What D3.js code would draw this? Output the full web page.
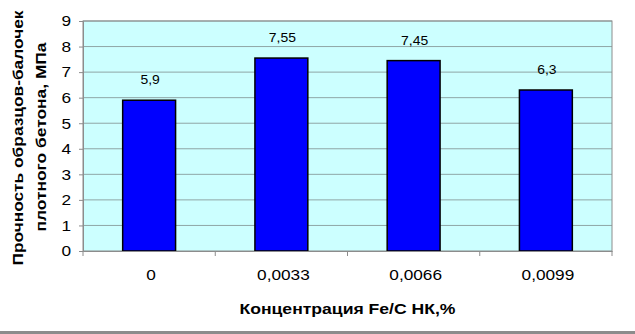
<!DOCTYPE html>
<html>
<head>
<meta charset="utf-8">
<script src="https://cdn.jsdelivr.net/npm/d3@7"></script>
<style>
  body { margin: 0; background: #fff; }
  text { font-family: "Liberation Sans", Arial, sans-serif; }
</style>
</head>
<body>
<div class="chart"></div>
<script>
// data
var categories = ["0", "0,0033", "0,0066", "0,0099"];
var strength = [5.9, 7.55, 7.45, 6.3];
var valueLabels = ["5,9", "7,55", "7,45", "6,3"];
var yTicks = [0, 1, 2, 3, 4, 5, 6, 7, 8, 9];

var svgWidth = 635;
var svgHeight = 334;

var margin = { top: 21, right: 23, bottom: 83, left: 83 };
var width = svgWidth - margin.left - margin.right;
var height = svgHeight - margin.top - margin.bottom;

// the original's text is drawn wider than plain Arial, stretch it a bit
function stretch(sel, k) {
  sel.each(function() {
    var n = this.getComputedTextLength();
    d3.select(this)
      .attr("textLength", n * k)
      .attr("lengthAdjust", "spacingAndGlyphs");
  });
}

function stretchTo(sel, len) {
  sel.attr("textLength", len).attr("lengthAdjust", "spacingAndGlyphs");
}

var svg = d3.select(".chart")
  .append("svg")
  .attr("width", svgWidth)
  .attr("height", svgHeight);

// grey strip along the bottom edge
svg.append("rect")
  .attr("x", 0)
  .attr("y", 331)
  .attr("width", svgWidth)
  .attr("height", 3)
  .attr("fill", "#8c8c8c");

var chartGroup = svg.append("g")
  .attr("transform", `translate(${margin.left}, ${margin.top})`);

var xScale = d3.scaleBand()
  .domain(categories)
  .range([0, width])
  .padding(0);

var yScale = d3.scaleLinear()
  .domain([0, 9])
  .range([height, 0]);

// plot background
chartGroup.append("rect")
  .attr("width", width)
  .attr("height", height)
  .attr("fill", "#ccffff");

// gridlines
chartGroup.selectAll(".grid")
  .data(yTicks.slice(1))
  .enter()
  .append("line")
  .attr("x1", 0)
  .attr("x2", width)
  .attr("y1", d => yScale(d))
  .attr("y2", d => yScale(d))
  .attr("stroke", "#8fa6a6")
  .attr("stroke-width", 1);

// plot border
chartGroup.append("rect")
  .attr("width", width)
  .attr("height", height)
  .attr("fill", "none")
  .attr("stroke", "#8c8c8c")
  .attr("stroke-width", 1);

// bars, gap width 150%
var barWidth = xScale.bandwidth() * 0.4;
chartGroup.selectAll(".bar")
  .data(strength)
  .enter()
  .append("rect")
  .attr("x", (d, i) => xScale(categories[i]) + (xScale.bandwidth() - barWidth) / 2)
  .attr("y", d => yScale(d))
  .attr("width", barWidth)
  .attr("height", d => height - yScale(d))
  .attr("fill", "#0000ff")
  .attr("stroke", "#000")
  .attr("stroke-width", 1.5);

// value labels
var vals = chartGroup.selectAll(".val")
  .data(strength)
  .enter()
  .append("text")
  .attr("x", (d, i) => xScale(categories[i]) + xScale.bandwidth() / 2 + 1)
  .attr("y", d => yScale(d) - 16)
  .attr("text-anchor", "middle")
  .attr("font-size", "13px")
  .attr("fill", "#000")
  .text((d, i) => valueLabels[i]);
stretch(vals, 1.07);

// y axis
var leftAxis = d3.axisLeft(yScale)
  .tickValues(yTicks)
  .tickSize(4)
  .tickPadding(8)
  .tickFormat(d3.format("d"));

var yAxis = chartGroup.append("g").call(leftAxis);
yAxis.select(".domain").attr("stroke", "#8c8c8c");
yAxis.selectAll(".tick line").attr("stroke", "#8c8c8c");
yAxis.selectAll("text")
  .attr("font-size", "15px")
  .attr("font-family", "Liberation Sans, Arial, sans-serif")
  .attr("fill", "#000");
stretch(yAxis.selectAll("text"), 1.15);

// x axis: ticks between categories
var bottomAxis = d3.axisBottom(xScale).tickSize(0).tickPadding(19);
var xAxis = chartGroup.append("g")
  .attr("transform", `translate(0, ${height})`)
  .call(bottomAxis);
xAxis.select(".domain").attr("stroke", "#8c8c8c");
xAxis.selectAll("text")
  .attr("font-size", "14px")
  .attr("font-family", "Liberation Sans, Arial, sans-serif")
  .attr("fill", "#000")
  .attr("dx", 2);
stretch(xAxis.selectAll("text"), 1.23);

chartGroup.selectAll(".xtick")
  .data(d3.range(categories.length + 1))
  .enter()
  .append("line")
  .attr("x1", i => i * xScale.step())
  .attr("x2", i => i * xScale.step())
  .attr("y1", height)
  .attr("y2", height + 5)
  .attr("stroke", "#8c8c8c");

// axis titles
var xTitle = chartGroup.append("text")
  .attr("x", width / 2)
  .attr("y", height + 63)
  .attr("text-anchor", "middle")
  .attr("font-size", "15px")
  .attr("font-weight", "bold")
  .text("Концентрация Fe/C НК,%");
stretchTo(xTitle, 216);

var yTitle1 = chartGroup.append("text")
  .attr("transform", "rotate(-90)")
  .attr("x", -(height / 2) - 2)
  .attr("y", -60)
  .attr("text-anchor", "middle")
  .attr("font-size", "14px")
  .attr("font-weight", "bold")
  .text("Прочность образцов-балочек");
stretchTo(yTitle1, 255);

var yTitle2 = chartGroup.append("text")
  .attr("transform", "rotate(-90)")
  .attr("x", -(height / 2) - 1)
  .attr("y", -37)
  .attr("text-anchor", "middle")
  .attr("font-size", "14px")
  .attr("font-weight", "bold")
  .text("плотного бетона, МПа");
stretchTo(yTitle2, 189);
</script>
</body>
</html>
